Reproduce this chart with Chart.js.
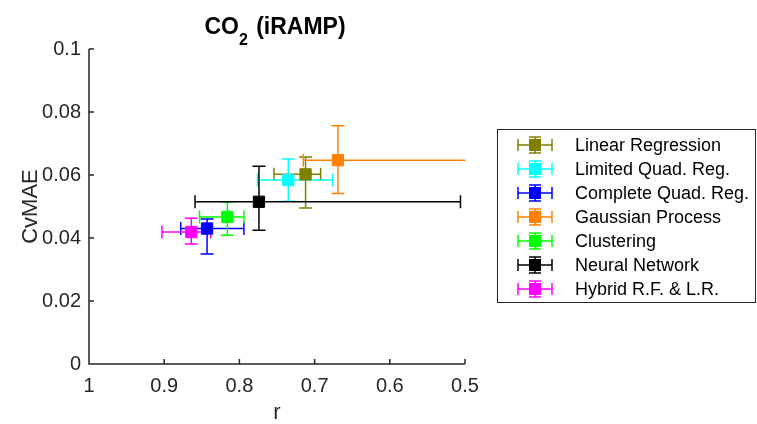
<!DOCTYPE html>
<html>
<head>
<meta charset="utf-8">
<script src="https://cdn.jsdelivr.net/npm/chart.js@4/dist/chart.umd.min.js"></script>
<style>
  html, body { margin: 0; padding: 0; background: #fff; }
  #wrap { width: 757px; height: 424px; }
</style>
</head>
<body>
<div id="wrap"><canvas id="c" width="757" height="424"></canvas></div>
<script>
const seriesNames = ['Linear Regression', 'Limited Quad. Reg.', 'Complete Quad. Reg.', 'Gaussian Process', 'Clustering', 'Neural Network', 'Hybrid R.F. & L.R.'];
const seriesColors = ['#808000', '#00FFFF', '#0000FF', '#FF8000', '#00FF00', '#000000', '#FF00FF'];
const rValues     = [0.712, 0.735, 0.843, 0.669, 0.816, 0.774, 0.864];
const rHigh       = [0.754, 0.776, 0.878, 0.715, 0.853, 0.859, 0.903];
const rLow        = [0.692, 0.676, 0.794, 0.480, 0.794, 0.506, 0.838];
const cvmaeValues = [0.0602, 0.0584, 0.0430, 0.0647, 0.0467, 0.0515, 0.0419];
const cvmaeHigh   = [0.0657, 0.0651, 0.0460, 0.0756, 0.0514, 0.0628, 0.0463];
const cvmaeLow    = [0.0495, 0.0517, 0.0349, 0.0541, 0.0409, 0.0425, 0.0381];
const xTickValues = [1, 0.9, 0.8, 0.7, 0.6, 0.5];
const xTickLabels = ['1', '0.9', '0.8', '0.7', '0.6', '0.5'];
const yTickValues = [0, 0.02, 0.04, 0.06, 0.08, 0.1];
const yTickLabels = ['0', '0.02', '0.04', '0.06', '0.08', '0.1'];

const FONT = '"Liberation Sans", Arial, Helvetica, sans-serif';
const AXIS_COLOR = '#262626';
const CAP = 6.5;

const datasets = seriesNames.map((name, i) => ({
  label: name,
  data: [{x: rValues[i], y: cvmaeValues[i]}],
  backgroundColor: seriesColors[i],
  borderColor: seriesColors[i],
  borderWidth: 1,
  pointStyle: 'rect',
  pointRadius: 8,
  pointHoverRadius: 8,
  showLine: false
}));

function drawErrBar(ctx, cx, cy, x1, x2, y1, y2, color, lw) {
  ctx.save();
  ctx.strokeStyle = color;
  ctx.lineWidth = lw;
  ctx.beginPath();
  ctx.moveTo(x1, cy); ctx.lineTo(x2, cy);
  ctx.moveTo(x1, cy - CAP); ctx.lineTo(x1, cy + CAP);
  ctx.moveTo(x2, cy - CAP); ctx.lineTo(x2, cy + CAP);
  ctx.moveTo(cx, y1); ctx.lineTo(cx, y2);
  ctx.moveTo(cx - CAP, y1); ctx.lineTo(cx + CAP, y1);
  ctx.moveTo(cx - CAP, y2); ctx.lineTo(cx + CAP, y2);
  ctx.stroke();
  ctx.restore();
}

const errorBarPlugin = {
  id: 'errorBars',
  beforeDatasetsDraw(chart) {
    const {ctx, chartArea: a, scales: {x, y}} = chart;
    ctx.save();
    ctx.beginPath();
    ctx.rect(a.left, a.top - 20, a.right - a.left + 0.5, a.bottom - a.top + 20);
    ctx.clip();
    seriesNames.forEach((n, i) => {
      drawErrBar(ctx,
        x.getPixelForValue(rValues[i]), y.getPixelForValue(cvmaeValues[i]),
        x.getPixelForValue(rHigh[i]), x.getPixelForValue(rLow[i]),
        y.getPixelForValue(cvmaeHigh[i]), y.getPixelForValue(cvmaeLow[i]),
        seriesColors[i], 1.5);
    });
    ctx.restore();
  }
};

const axesPlugin = {
  id: 'matlabAxes',
  afterDraw(chart) {
    const {ctx, chartArea: a, scales: {x, y}} = chart;
    ctx.save();
    ctx.strokeStyle = AXIS_COLOR;
    ctx.lineWidth = 1.5;
    ctx.beginPath();
    ctx.moveTo(a.left, a.top); ctx.lineTo(a.left, a.bottom); ctx.lineTo(a.right, a.bottom);
    xTickValues.forEach(v => { const px = x.getPixelForValue(v); ctx.moveTo(px, a.bottom); ctx.lineTo(px, a.bottom - 5); });
    yTickValues.forEach(v => { const py = y.getPixelForValue(v); ctx.moveTo(a.left, py); ctx.lineTo(a.left + 5, py); });
    ctx.stroke();

    // Title with subscript
    const cxT = 275;
    const base = 33.5;
    ctx.fillStyle = '#000';
    ctx.textBaseline = 'alphabetic';
    const fMain = 'bold 23px ' + FONT, fSub = 'bold 16px ' + FONT;
    const gap = 2;
    ctx.font = fMain; const w1 = ctx.measureText('CO').width; const w3 = ctx.measureText(' (iRAMP)').width;
    ctx.font = fSub; const w2 = ctx.measureText('2').width;
    let tx = cxT - (w1 + w2 + gap + w3) / 2;
    ctx.font = fMain; ctx.textAlign = 'left'; ctx.fillText('CO', tx, base); tx += w1;
    ctx.font = fSub; ctx.fillText('2', tx, base + 11); tx += w2 + gap;
    ctx.font = fMain; ctx.fillText(' (iRAMP)', tx, base);

    // Legend
    const L = 497, T = 129, R = 756, B = 303;
    ctx.fillStyle = '#fff';
    ctx.fillRect(L, T, R - L, B - T);
    ctx.strokeStyle = AXIS_COLOR; ctx.lineWidth = 1;
    ctx.strokeRect(L + 0.5, T + 0.5, R - L - 1, B - T - 1);
    ctx.font = '18px ' + FONT;
    ctx.textBaseline = 'middle';
    chart.data.datasets.forEach((ds, i) => {
      const yy = 145 + i * 24;
      const cx = 535;
      ctx.save();
      ctx.strokeStyle = ds.borderColor; ctx.lineWidth = 1.5;
      ctx.beginPath();
      ctx.moveTo(518, yy); ctx.lineTo(552, yy);
      ctx.moveTo(518, yy - 6); ctx.lineTo(518, yy + 6);
      ctx.moveTo(552, yy - 6); ctx.lineTo(552, yy + 6);
      ctx.moveTo(cx, yy - 8); ctx.lineTo(cx, yy + 8);
      ctx.moveTo(cx - 6, yy - 8); ctx.lineTo(cx + 6, yy - 8);
      ctx.moveTo(cx - 6, yy + 8); ctx.lineTo(cx + 6, yy + 8);
      ctx.stroke();
      ctx.fillStyle = ds.backgroundColor;
      ctx.fillRect(cx - 6, yy - 6, 12, 12);
      ctx.restore();
      ctx.fillStyle = '#000';
      ctx.fillText(ds.label, 575, yy + 1);
    });
    ctx.restore();
  }
};

new Chart(document.getElementById('c'), {
  type: 'scatter',
  data: { datasets },
  options: {
    responsive: false,
    animation: false,
    devicePixelRatio: 1,
    layout: { padding: { top: 49, right: 292, left: 0, bottom: 0 } },
    plugins: { legend: { display: false }, tooltip: { enabled: false }, title: { display: false } },
    scales: {
      x: {
        type: 'linear', reverse: true, min: 0.5, max: 1,
        grid: { display: false, drawTicks: false },
        border: { display: false },
        afterBuildTicks: s => { s.ticks = xTickValues.map(v => ({value: v})); },
        afterFit: s => { s.height = 60; },
        ticks: {
          padding: 10, color: AXIS_COLOR, font: { family: FONT, size: 20 },
          maxRotation: 0, autoSkip: false,
          callback: (v) => xTickLabels[xTickValues.indexOf(v)]
        },
        title: { display: true, text: 'r', color: AXIS_COLOR, font: { family: FONT, size: 22 }, padding: { top: 0, bottom: -2 } }
      },
      y: {
        type: 'linear', min: 0, max: 0.1,
        grid: { display: false, drawTicks: false },
        border: { display: false },
        afterBuildTicks: s => { s.ticks = yTickValues.map(v => ({value: v})); },
        afterFit: s => { s.width = 89; },
        ticks: {
          padding: 8, color: AXIS_COLOR, font: { family: FONT, size: 20 },
          autoSkip: false,
          callback: (v) => yTickLabels[yTickValues.indexOf(v)]
        },
        title: { display: true, text: 'CvMAE', color: AXIS_COLOR, font: { family: FONT, size: 22 }, padding: { top: 18, bottom: 0 } }
      }
    }
  },
  plugins: [errorBarPlugin, axesPlugin]
});
</script>
</body>
</html>
